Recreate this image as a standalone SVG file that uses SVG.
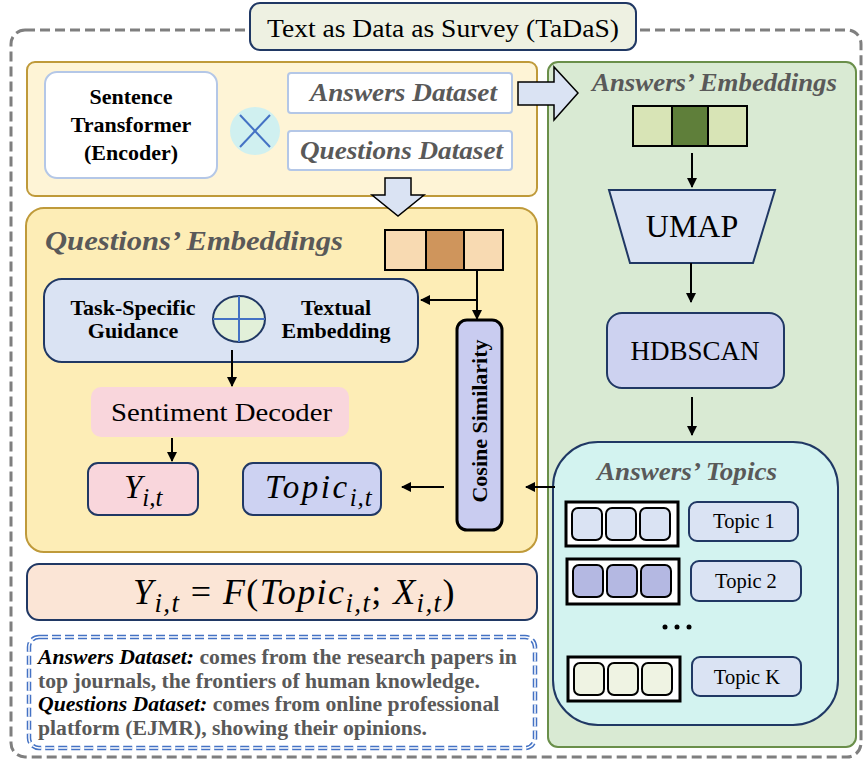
<svg xmlns="http://www.w3.org/2000/svg" width="865" height="761" viewBox="0 0 865 761">
<defs>
<style>
.hdr{font-style:italic;font-weight:bold;fill:#595959;}
.bold{font-weight:bold;fill:#000;}
.math{font-style:italic;fill:#000;}
.conn{stroke:#000;stroke-width:2;fill:none;}
.navy{stroke:#203864;stroke-width:2;}
.cell{stroke:#000;stroke-width:2;}
.tcell{stroke:#000;stroke-width:2;}
.tlabel{fill:#dae3f3;stroke:#203864;stroke-width:2;}
.ttext{font-size:20.5px;fill:#000;text-anchor:middle;}
</style>
<marker id="ah" viewBox="0 0 10 10" refX="9" refY="5" markerWidth="5" markerHeight="5" orient="auto-start-reverse" markerUnits="strokeWidth">
<path d="M0,0 L10,5 L0,10 z" fill="#000"/>
</marker>
</defs>
<rect x="0" y="0" width="865" height="761" fill="#ffffff"/>
<g font-family="'Liberation Serif', 'Times New Roman', serif">

<g id="frame">
<rect x="11" y="30" width="850" height="727" rx="14" fill="none" stroke="#7f7f7f" stroke-width="3" stroke-dasharray="10,5"/>
</g>

<g id="title">
<rect x="250" y="3" width="386" height="47" rx="10" fill="#eef1e2" stroke="#203864" stroke-width="2"/>
<text x="443" y="37" font-size="26" text-anchor="middle" textLength="352" lengthAdjust="spacingAndGlyphs">Text as Data as Survey (TaDaS)</text>
</g>

<g id="encoder-panel">
<rect x="27" y="62" width="510" height="134" rx="8" fill="#fef4d6" stroke="#bf9a3a" stroke-width="2"/>
</g>

<g id="sentence-transformer">
<rect x="45" y="72" width="172" height="106" rx="12" fill="#ffffff" stroke="#b4c7e7" stroke-width="2"/>
<text class="bold" font-size="22" text-anchor="middle"><tspan x="131" y="104">Sentence</tspan><tspan x="131" y="132">Transformer</tspan><tspan x="131" y="160">(Encoder)</tspan></text>
</g>

<g id="cross-op">
<ellipse cx="255" cy="131" rx="25" ry="24" fill="#d0f0f0"/>
<line x1="240" y1="115" x2="270" y2="147" stroke="#4472c4" stroke-width="2"/>
<line x1="270" y1="115" x2="240" y2="147" stroke="#4472c4" stroke-width="2"/>
</g>

<g id="answers-dataset">
<rect x="288" y="73" width="224" height="40" rx="3" fill="#ffffff" stroke="#b4c7e7" stroke-width="2"/>
<text x="310" y="101" class="hdr" font-size="25" textLength="187" lengthAdjust="spacingAndGlyphs">Answers Dataset</text>
</g>

<g id="questions-dataset">
<rect x="288" y="131" width="224" height="39" rx="3" fill="#ffffff" stroke="#b4c7e7" stroke-width="2"/>
<text x="300" y="159" class="hdr" font-size="25" textLength="203" lengthAdjust="spacingAndGlyphs">Questions Dataset</text>
</g>

<g id="questions-panel">
<rect x="26" y="208" width="511" height="344" rx="18" fill="#fdedb6" stroke="#bf9a3a" stroke-width="2"/>
<text x="45" y="250" class="hdr" font-size="27" textLength="298" lengthAdjust="spacingAndGlyphs">Questions’ Embeddings</text>
</g>

<g id="question-vector">
<rect x="385" y="230" width="41" height="40" fill="#f8dab2" class="cell"/>
<rect x="426" y="230" width="38" height="40" fill="#cf955c" class="cell"/>
<rect x="464" y="230" width="39" height="40" fill="#f8dab2" class="cell"/>
</g>

<g id="task-box">
<rect x="44" y="279" width="374" height="83" rx="18" fill="#dae3f3" class="navy"/>
<text class="bold" font-size="22" text-anchor="middle"><tspan x="133" y="315">Task-Specific</tspan><tspan x="133" y="338">Guidance</tspan></text>
<text class="bold" font-size="22" text-anchor="middle"><tspan x="336" y="315">Textual</tspan><tspan x="336" y="338">Embedding</tspan></text>
</g>

<g id="plus-op">
<ellipse cx="239" cy="319" rx="26" ry="23" fill="#e2f0d9" class="navy"/>
<line x1="239" y1="296" x2="239" y2="342" stroke="#4472c4" stroke-width="2"/>
<line x1="213" y1="319" x2="265" y2="319" stroke="#4472c4" stroke-width="2"/>
</g>

<g id="sentiment-decoder">
<rect x="91" y="387" width="258" height="50" rx="10" fill="#f9d6dc"/>
<text x="111" y="421" font-size="26" textLength="221" lengthAdjust="spacingAndGlyphs">Sentiment Decoder</text>
</g>

<g id="y-box">
<rect x="88" y="463" width="110" height="52" rx="10" fill="#f9d6dc" class="navy"/>
<text x="124" y="498" class="math" font-size="33">Y<tspan font-size="25" dy="8">i,t</tspan></text>
</g>

<g id="topic-box">
<rect x="243" y="463" width="138" height="52" rx="10" fill="#cdd2f2" class="navy"/>
<text x="265" y="498" class="math" font-size="33" letter-spacing="2.5">Topic<tspan font-size="25" dy="8" letter-spacing="1">i,t</tspan></text>
</g>

<g id="cosine">
<rect x="457" y="320" width="45" height="210" rx="10" fill="#c9ccf0" stroke="#000" stroke-width="3"/>
<text transform="translate(487,421) rotate(-90)" class="bold" font-size="21" text-anchor="middle" textLength="163" lengthAdjust="spacingAndGlyphs">Cosine Similarity</text>
</g>

<g id="equation">
<rect x="27" y="564" width="510" height="56" rx="12" fill="#fbe5d6" class="navy"/>
<text x="133" y="604" class="math" font-size="36" letter-spacing="1.4">Y<tspan font-size="27" dy="8">i,t</tspan><tspan dy="-8" font-style="normal"> = </tspan><tspan>F</tspan><tspan font-style="normal">(</tspan><tspan>Topic</tspan><tspan font-size="27" dy="8">i,t</tspan><tspan dy="-8" font-style="normal">; </tspan><tspan>X</tspan><tspan font-size="27" dy="8">i,t</tspan><tspan dy="-8" font-style="normal">)</tspan></text>
</g>

<g id="note">
<rect x="29" y="637" width="506" height="111" rx="10" fill="#ffffff" stroke="#4472c4" stroke-width="4.5" stroke-dasharray="9,4"/>
<rect x="29" y="637" width="506" height="111" rx="10" fill="none" stroke="#ffffff" stroke-width="1.5" stroke-dasharray="9,4"/>
<text font-weight="bold" font-size="21.7" fill="#595959">
<tspan x="38" y="664"><tspan font-style="italic" fill="#000">Answers Dataset:</tspan> comes from the research papers in</tspan>
<tspan x="38" y="688">top journals, the frontiers of human knowledge.</tspan>
<tspan x="38" y="711"><tspan font-style="italic" fill="#000">Questions Dataset:</tspan> comes from online professional</tspan>
<tspan x="38" y="735">platform (EJMR),  showing their opinions.</tspan>
</text>
</g>

<g id="answers-panel">
<rect x="548" y="62" width="308" height="685" rx="10" fill="#d9ead3" stroke="#6a8f4a" stroke-width="2"/>
<text x="592" y="91" class="hdr" font-size="25" textLength="245" lengthAdjust="spacingAndGlyphs">Answers’ Embeddings</text>
</g>

<g id="answer-vector">
<rect x="633" y="106" width="39" height="40" fill="#d8e4b6" class="cell"/>
<rect x="672" y="106" width="36" height="40" fill="#5f7f3a" class="cell"/>
<rect x="708" y="106" width="39" height="40" fill="#d8e4b6" class="cell"/>
</g>

<g id="umap">
<polygon points="609,190 775,190 753,263 630,263" fill="#dae3f3" class="navy"/>
<text x="692" y="237" font-size="32" text-anchor="middle">UMAP</text>
</g>

<g id="hdbscan">
<rect x="607" y="313" width="177" height="75" rx="15" fill="#cdd2f0" class="navy"/>
<text x="695" y="360" font-size="27" text-anchor="middle">HDBSCAN</text>
</g>

<g id="answers-topics">
<rect x="553" y="442" width="285" height="283" rx="45" fill="#d3f3f0" class="navy"/>
<text x="597" y="480" class="hdr" font-size="25" textLength="180" lengthAdjust="spacingAndGlyphs">Answers’ Topics</text>
</g>

<g id="topic1">
<rect x="566" y="502" width="112" height="44" fill="#ffffff" stroke="#000" stroke-width="3"/>
<rect x="572" y="508" width="30" height="32" rx="6" fill="#dae3f3" class="tcell"/>
<rect x="606" y="508" width="30" height="32" rx="6" fill="#dae3f3" class="tcell"/>
<rect x="640" y="508" width="30" height="32" rx="6" fill="#dae3f3" class="tcell"/>
<rect x="689" y="502" width="109" height="39" rx="8" class="tlabel"/>
<text x="744" y="528" class="ttext">Topic 1</text>
</g>

<g id="topic2">
<rect x="567" y="559" width="112" height="45" fill="#ffffff" stroke="#000" stroke-width="3"/>
<rect x="573" y="565" width="30" height="32" rx="6" fill="#b4b8e2" class="tcell"/>
<rect x="607" y="565" width="30" height="32" rx="6" fill="#b4b8e2" class="tcell"/>
<rect x="641" y="565" width="30" height="32" rx="6" fill="#b4b8e2" class="tcell"/>
<rect x="691" y="561" width="110" height="40" rx="8" class="tlabel"/>
<text x="746" y="588" class="ttext">Topic 2</text>
</g>

<g id="dots">
<circle cx="665" cy="627" r="2.5" fill="#000"/>
<circle cx="677" cy="627" r="2.5" fill="#000"/>
<circle cx="689" cy="627" r="2.5" fill="#000"/>
</g>

<g id="topicK">
<rect x="568" y="657" width="112" height="44" fill="#ffffff" stroke="#000" stroke-width="3"/>
<rect x="574" y="663" width="30" height="32" rx="6" fill="#eff3e3" class="tcell"/>
<rect x="608" y="663" width="30" height="32" rx="6" fill="#eff3e3" class="tcell"/>
<rect x="642" y="663" width="30" height="32" rx="6" fill="#eff3e3" class="tcell"/>
<rect x="692" y="657" width="109" height="39" rx="8" class="tlabel"/>
<text x="747" y="684" class="ttext">Topic K</text>
</g>

<g id="connectors">
<path d="M518,82 L554,82 L554,67 L578,93 L554,120 L554,105 L518,105 Z" fill="#dae3f3" stroke="#000" stroke-width="1.5"/>
<path d="M385,178 L411,178 L411,195 L424,195 L398,216 L372,195 L385,195 Z" fill="#dae3f3" stroke="#000" stroke-width="1.5"/>
<line x1="477" y1="270" x2="477" y2="319" class="conn" marker-end="url(#ah)"/>
<line x1="477" y1="300" x2="421" y2="300" class="conn" marker-end="url(#ah)"/>
<line x1="232" y1="350" x2="232" y2="386" class="conn" marker-end="url(#ah)"/>
<line x1="172" y1="438" x2="172" y2="461" class="conn" marker-end="url(#ah)"/>
<line x1="444" y1="487" x2="402" y2="487" class="conn" marker-end="url(#ah)"/>
<line x1="555" y1="487" x2="526" y2="487" class="conn" marker-end="url(#ah)"/>
<line x1="692" y1="153" x2="692" y2="187" class="conn" marker-end="url(#ah)"/>
<line x1="691" y1="263" x2="691" y2="302" class="conn" marker-end="url(#ah)"/>
<line x1="692" y1="397" x2="692" y2="435" class="conn" marker-end="url(#ah)"/>
</g>
</g>
</svg>
